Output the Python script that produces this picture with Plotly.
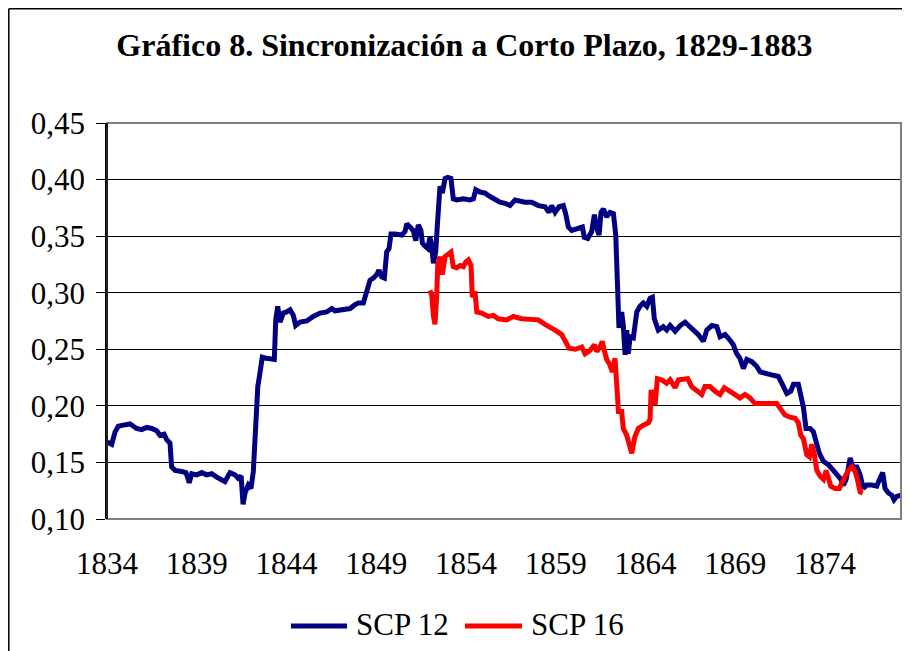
import plotly.graph_objects as go

# SCP 12 (azul marino)
scp12_year = [
    1834.00, 1834.26, 1834.45, 1834.63, 1834.91, 1835.28, 1835.47, 1835.65, 1835.93, 1836.21,
    1836.49, 1836.77, 1836.95, 1837.18, 1837.33, 1837.51, 1837.60, 1837.79, 1838.16, 1838.40,
    1838.58, 1838.72, 1839.00, 1839.28, 1839.55, 1839.83, 1840.11, 1840.39, 1840.57, 1840.85,
    1841.13, 1841.31, 1841.47, 1841.58, 1841.69, 1841.87, 1842.02, 1842.15, 1842.28, 1842.40,
    1842.52, 1842.65, 1842.90, 1843.32, 1843.40, 1843.51, 1843.64, 1843.82, 1844.01, 1844.20,
    1844.38, 1844.51, 1844.75, 1845.13, 1845.49, 1845.87, 1846.24, 1846.52, 1846.70, 1847.08,
    1847.54, 1847.78, 1848.00, 1848.28, 1848.41, 1848.56, 1848.65, 1848.84, 1849.03, 1849.15,
    1849.30, 1849.45, 1849.58, 1849.71, 1849.82, 1850.04, 1850.42, 1850.60, 1850.70, 1850.88,
    1851.06, 1851.20, 1851.34, 1851.49, 1851.57, 1851.72, 1851.87, 1851.99, 1852.09, 1852.18,
    1852.31, 1852.42, 1852.55, 1852.68, 1852.83, 1852.98, 1853.16, 1853.29, 1853.48, 1853.85,
    1854.22, 1854.41, 1854.54, 1854.78, 1855.06, 1855.34, 1855.62, 1855.89, 1856.17, 1856.45,
    1856.73, 1857.29, 1857.66, 1858.03, 1858.40, 1858.62, 1858.77, 1858.96, 1859.18, 1859.42,
    1859.55, 1859.70, 1859.89, 1860.17, 1860.48, 1860.59, 1860.78, 1861.00, 1861.15, 1861.28,
    1861.41, 1861.52, 1861.65, 1861.84, 1862.02, 1862.21, 1862.34, 1862.45, 1862.52, 1862.67,
    1862.76, 1862.86, 1862.95, 1863.04, 1863.14, 1863.32, 1863.51, 1863.69, 1863.88, 1864.07,
    1864.25, 1864.38, 1864.49, 1864.71, 1864.99, 1865.18, 1865.37, 1865.65, 1865.93, 1866.20,
    1866.48, 1866.66, 1866.94, 1867.22, 1867.41, 1867.69, 1867.97, 1868.15, 1868.43, 1868.71,
    1868.89, 1869.08, 1869.26, 1869.45, 1869.64, 1869.92, 1870.19, 1870.38, 1870.56, 1870.75,
    1871.12, 1871.40, 1871.59, 1871.87, 1872.09, 1872.24, 1872.51, 1872.65, 1872.79, 1872.94,
    1873.17, 1873.35, 1873.50, 1873.68, 1873.91, 1874.18, 1874.46, 1874.65, 1874.84, 1875.02,
    1875.17, 1875.40, 1875.54, 1875.77, 1875.95, 1876.13, 1876.32, 1876.60, 1876.88, 1877.03,
    1877.21, 1877.34, 1877.53, 1877.72, 1877.84, 1877.99, 1878.23,
]
scp12_val = [
    0.168, 0.166, 0.177, 0.182, 0.183, 0.184, 0.182, 0.180, 0.179, 0.181,
    0.180, 0.178, 0.174, 0.175, 0.170, 0.167, 0.146, 0.143, 0.142, 0.141,
    0.132, 0.140, 0.139, 0.141, 0.139, 0.140, 0.137, 0.135, 0.133, 0.141,
    0.139, 0.136, 0.138, 0.113, 0.123, 0.130, 0.127, 0.142, 0.179, 0.217,
    0.229, 0.243, 0.242, 0.241, 0.276, 0.288, 0.274, 0.282, 0.283, 0.285,
    0.280, 0.271, 0.274, 0.275, 0.279, 0.282, 0.283, 0.286, 0.284, 0.285,
    0.286, 0.289, 0.291, 0.291, 0.299, 0.308, 0.311, 0.313, 0.316, 0.320,
    0.314, 0.313, 0.336, 0.339, 0.352, 0.352, 0.351, 0.354, 0.361, 0.358,
    0.355, 0.346, 0.360, 0.355, 0.344, 0.341, 0.339, 0.349, 0.342, 0.326,
    0.336, 0.364, 0.394, 0.388, 0.401, 0.402, 0.401, 0.383, 0.382, 0.383,
    0.382, 0.383, 0.391, 0.389, 0.388, 0.385, 0.382, 0.380, 0.379, 0.377,
    0.382, 0.380, 0.380, 0.377, 0.376, 0.371, 0.377, 0.371, 0.376, 0.377,
    0.370, 0.358, 0.355, 0.356, 0.358, 0.349, 0.348, 0.354, 0.369, 0.357,
    0.351, 0.371, 0.374, 0.367, 0.371, 0.370, 0.351, 0.301, 0.269, 0.283,
    0.271, 0.245, 0.267, 0.246, 0.261, 0.260, 0.283, 0.288, 0.291, 0.288,
    0.295, 0.296, 0.277, 0.267, 0.270, 0.267, 0.271, 0.266, 0.271, 0.274,
    0.270, 0.267, 0.263, 0.257, 0.267, 0.271, 0.270, 0.261, 0.263, 0.258,
    0.254, 0.246, 0.242, 0.233, 0.241, 0.239, 0.235, 0.230, 0.229, 0.228,
    0.227, 0.226, 0.220, 0.211, 0.213, 0.219, 0.219, 0.208, 0.199, 0.180,
    0.180, 0.177, 0.167, 0.158, 0.151, 0.148, 0.143, 0.139, 0.136, 0.130,
    0.135, 0.154, 0.146, 0.146, 0.139, 0.127, 0.130, 0.130, 0.129, 0.135,
    0.141, 0.127, 0.123, 0.121, 0.117, 0.120, 0.121,
]

# SCP 16 (rojo)
scp16_year = [
    1851.99, 1852.09, 1852.18, 1852.27, 1852.37, 1852.42, 1852.55, 1852.68, 1852.83, 1853.01,
    1853.16, 1853.29, 1853.48, 1853.67, 1853.85, 1853.98, 1854.13, 1854.28, 1854.35, 1854.50,
    1854.60, 1854.87, 1855.24, 1855.52, 1855.80, 1856.27, 1856.63, 1857.10, 1857.47, 1858.03,
    1858.40, 1858.77, 1859.05, 1859.33, 1859.52, 1859.74, 1860.07, 1860.45, 1860.63, 1860.91,
    1861.15, 1861.28, 1861.46, 1861.59, 1861.70, 1861.84, 1862.02, 1862.15, 1862.30, 1862.40,
    1862.49, 1862.67, 1862.76, 1862.95, 1863.10, 1863.23, 1863.41, 1863.60, 1863.88, 1864.16,
    1864.25, 1864.31, 1864.53, 1864.66, 1864.90, 1865.18, 1865.37, 1865.65, 1865.83, 1866.11,
    1866.35, 1866.57, 1866.85, 1867.13, 1867.31, 1867.59, 1867.87, 1868.15, 1868.39, 1868.71,
    1868.98, 1869.26, 1869.54, 1869.82, 1870.10, 1870.38, 1870.75, 1871.03, 1871.31, 1871.49,
    1871.77, 1872.05, 1872.33, 1872.51, 1872.65, 1872.79, 1872.98, 1873.13, 1873.26, 1873.39,
    1873.54, 1873.72, 1873.91, 1874.06, 1874.19, 1874.32, 1874.56, 1874.80, 1874.93, 1875.12,
    1875.30, 1875.49, 1875.67, 1875.80, 1875.95, 1876.10,
]
scp16_val = [
    0.302, 0.298, 0.280, 0.272, 0.298, 0.324, 0.332, 0.316, 0.332, 0.335,
    0.336, 0.323, 0.322, 0.324, 0.323, 0.327, 0.329, 0.324, 0.296, 0.301,
    0.283, 0.282, 0.279, 0.280, 0.277, 0.276, 0.279, 0.277, 0.277, 0.276,
    0.272, 0.269, 0.266, 0.263, 0.257, 0.251, 0.250, 0.252, 0.246, 0.249,
    0.254, 0.248, 0.252, 0.257, 0.249, 0.241, 0.236, 0.230, 0.242, 0.221,
    0.195, 0.195, 0.180, 0.174, 0.164, 0.158, 0.173, 0.180, 0.183, 0.185,
    0.188, 0.214, 0.201, 0.224, 0.223, 0.220, 0.223, 0.216, 0.223, 0.224,
    0.224, 0.217, 0.214, 0.210, 0.217, 0.217, 0.213, 0.210, 0.216, 0.213,
    0.210, 0.207, 0.210, 0.207, 0.202, 0.202, 0.202, 0.201, 0.202, 0.198,
    0.192, 0.190, 0.189, 0.185, 0.174, 0.171, 0.157, 0.155, 0.166, 0.158,
    0.143, 0.138, 0.135, 0.143, 0.136, 0.129, 0.127, 0.127, 0.132, 0.138,
    0.143, 0.146, 0.142, 0.135, 0.124, 0.123,
]

year_ticks = [1834, 1839, 1844, 1849, 1854, 1859, 1864, 1869, 1874]
value_ticks = [0.10, 0.15, 0.20, 0.25, 0.30, 0.35, 0.40, 0.45]
series_names = ["SCP 12", "SCP 16"]
series_colors = ["#000080", "#FF0000"]

FONT = "Liberation Serif"

fig = go.Figure()
fig.add_trace(go.Scatter(x=scp12_year, y=scp12_val, name=series_names[0], mode="lines",
                         line=dict(color=series_colors[0], width=5)))
fig.add_trace(go.Scatter(x=scp16_year, y=scp16_val, name=series_names[1], mode="lines",
                         line=dict(color=series_colors[1], width=5)))

# la página añade 8 px de margen al cuerpo: la figura se reduce en esa medida
fig.update_layout(
    width=902,
    height=643,
    margin=dict(l=99, r=9, t=115, b=132, autoexpand=False),
    paper_bgcolor="white",
    plot_bgcolor="white",
    separators=",.",
    font=dict(family=FONT, size=31, color="black"),
    title=dict(text="<b>Gráfico 8. Sincronización a Corto Plazo, 1829-1883</b>",
               x=0.506, xanchor="center", y=0.943, yanchor="middle",
               font=dict(family=FONT, size=32, color="black")),
    showlegend=False,
)
fig.update_xaxes(
    range=[1834, 1878.23],
    tickvals=year_ticks,
    ticktext=[str(v) for v in year_ticks],
    tickfont=dict(family=FONT, size=31, color="black"),
    showgrid=False,
    zeroline=False,
    showline=False,
    ticks="",
    ticklabelstandoff=23,
    automargin=False,
)
fig.update_yaxes(
    range=[0.10, 0.45],
    tickvals=value_ticks,
    tickformat=".2f",
    tickfont=dict(family=FONT, size=31, color="black"),
    showgrid=True,
    gridcolor="black",
    gridwidth=1,
    zeroline=False,
    showline=True,
    linecolor="black",
    linewidth=1.5,
    ticks="outside",
    ticklen=9,
    tickcolor="black",
    ticklabelstandoff=5,
    automargin=False,
)

# marco gris del área de trazado
fig.add_shape(type="rect", xref="paper", yref="paper", x0=0, x1=1, y0=0, y1=1,
              line=dict(color="#808080", width=2), layer="above")
fig.add_shape(type="line", xref="paper", yref="paper", x0=0, x1=0, y0=0, y1=1,
              line=dict(color="black", width=1.5), layer="above")
# marco exterior del gráfico
fig.add_shape(type="line", xref="paper", yref="paper", x0=-0.1237, x1=-0.1237, y0=-0.34, y1=1.2885,
              line=dict(color="black", width=1.5))
fig.add_shape(type="line", xref="paper", yref="paper", x0=-0.1237, x1=1.02, y0=1.2885, y1=1.2885,
              line=dict(color="black", width=1.5))

# leyenda inferior
legend_y = -0.270
legend_line_x = [(0.2317, 0.3023), (0.4509, 0.5227)]
legend_text_x = [0.3111, 0.5315]
for name, color, (lx0, lx1), tx in zip(series_names, series_colors, legend_line_x, legend_text_x):
    fig.add_shape(type="line", xref="paper", yref="paper", x0=lx0, x1=lx1, y0=legend_y, y1=legend_y,
                  line=dict(color=color, width=5))
    fig.add_annotation(text=name, xref="paper", yref="paper", x=tx, y=legend_y + 0.004,
                       xanchor="left", yanchor="middle", showarrow=False,
                       font=dict(family=FONT, size=31, color="black"))

fig.write_html("out.html")
